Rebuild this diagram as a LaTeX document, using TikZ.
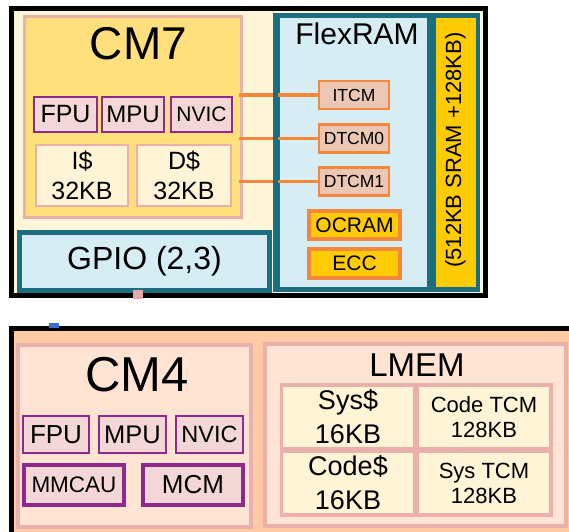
\documentclass[tikz,border=0pt]{standalone}
\usepackage{fontspec}
\setmainfont{Liberation Sans}
\definecolor{framecream}{HTML}{FFF5D8}
\definecolor{cmyellow}{HTML}{FFE07C}
\definecolor{pinkline}{HTML}{EBB0AC}
\definecolor{cellcream}{HTML}{FFF4D6}
\definecolor{unitpink}{HTML}{F3D6D6}
\definecolor{unitline}{HTML}{8E2A8C}
\definecolor{tealline}{HTML}{1B6D80}
\definecolor{lightblue}{HTML}{D6EDF4}
\definecolor{orangeline}{HTML}{F5873A}
\definecolor{tcmfill}{HTML}{ECC7B3}
\definecolor{gold}{HTML}{FFCB05}
\definecolor{peach}{HTML}{FFCBA5}
\definecolor{lightpeach}{HTML}{FFE4D4}
\definecolor{pinsq}{HTML}{E4A8A8}
\definecolor{bluemark}{HTML}{3A6FD0}
\newcommand\fs[2]{\fontsize{#1}{#2}\selectfont}

\begin{document}
\begin{tikzpicture}[x=1pt,y=-1pt,line join=miter,
  every node/.style={inner sep=0pt,align=center},
  sz/.style n args={2}{minimum width=#1,minimum height=#2},
  cell/.style={draw=pinkline,line width=2.5pt,fill=cellcream},
  unit/.style={draw=unitline,line width=1.6pt,fill=unitpink},
  bigunit/.style={draw=unitline,line width=4pt,fill=unitpink},
  tcm/.style={draw=orangeline,line width=2.5pt,fill=tcmfill},
  ocr/.style={draw=orangeline,line width=4pt,fill=gold},
  tealbox/.style={draw=tealline,line width=5pt,fill=lightblue},
  link/.style={draw=orangeline,line width=3.2pt}]
  \useasboundingbox (0,0) rectangle (569,531);
  \clip (0,0) rectangle (569,531);

  \draw[line width=5.5pt,fill=framecream] (11.5,8.5) rectangle (485.5,295.5);
  \node[draw=pinkline,line width=3pt,fill=cmyellow,sz={217}{201}] (cm7) at (132.5,116.5) {};
  \node[font=\fs{46}{50}] (cm7t) at (138.5,44) {CM7};
  \node[unit,sz={63}{35},font=\fs{25}{30}] (fpu7) at (65.5,114.5) {FPU};
  \node[unit,sz={62}{35},font=\fs{24}{30}] (mpu7) at (133,114.5) {MPU};
  \node[unit,sz={61}{35},font=\fs{21}{30}] (nvic7) at (201.5,114.5) {NVIC};
  \node[cell,sz={92}{61},font=\fs{25}{30}] (icache) at (82,175.5) {I\$\\32KB};
  \node[cell,sz={94}{61},font=\fs{25}{30}] (dcache) at (184,175.5) {D\$\\32KB};
  \node[tealbox,sz={250}{58},font=\fs{32}{36}] (gpio) at (144.5,261.5) {GPIO (2,3)};

  \node[tealbox,sz={152}{274}] (flexram) at (353.5,152.5) {};
  \node[font=\fs{30}{34}] (flexramt) at (357,34) {FlexRAM};
  \node[draw=tealline,line width=4.5pt,fill=gold,sz={44.5}{274}] (sram) at (455.5,152.5) {};
  \node[rotate=90,font=\fs{22}{26}] (sramt) at (455.5,150) {(512KB SRAM +128KB)};
  \node[tcm,sz={70}{28},font=\fs{17.5}{20}] (itcm) at (354,95) {ITCM};
  \node[tcm,sz={70}{28},font=\fs{17.5}{20}] (dtcm0) at (354,138.5) {DTCM0};
  \node[tcm,sz={70}{28},font=\fs{17.5}{20}] (dtcm1) at (354,181.5) {DTCM1};
  \node[ocr,sz={91}{28},font=\fs{21}{24}] (ocram) at (354.5,225) {OCRAM};
  \node[ocr,sz={91}{29},font=\fs{21}{24}] (ecc) at (354.5,263.5) {ECC};

  \draw[link] ([xshift=-4pt]cm7.east |- itcm) -- (itcm.west);
  \draw[link] ([xshift=-4pt]cm7.east |- dtcm0) -- (dtcm0.west);
  \draw[link] ([xshift=-4pt]cm7.east |- dtcm1) -- (dtcm1.west);
  \draw[tealline,line width=5pt] (flexram.north west) -- (flexram.south west);
  \node[fill=pinsq,sz={10}{9}] (gpiopin) at (138,294) {};

  \draw[line width=5.5pt,fill=peach] (11.5,328.5) rectangle (600,560);
  \node[fill=bluemark,sz={10}{5}] (mark) at (54,325.5) {};
  \node[draw=pinkline,line width=4pt,fill=lightpeach,sz={233}{182}] (cm4) at (134.5,436) {};
  \node[font=\fs{49}{52}] (cm4t) at (137,375) {CM4};
  \node[unit,sz={66}{37},font=\fs{26}{30}] (fpu4) at (56,434.5) {FPU};
  \node[unit,sz={67}{37},font=\fs{25.5}{30}] (mpu4) at (132.5,434.5) {MPU};
  \node[unit,sz={67}{37},font=\fs{23.5}{30}] (nvic4) at (209.5,434.5) {NVIC};
  \node[bigunit,sz={100}{40},font=\fs{22.5}{26}] (mmcau) at (74,485) {MMCAU};
  \node[bigunit,sz={100}{40},font=\fs{26}{30}] (mcm) at (193,485) {MCM};

  \node[draw=pinkline,line width=4pt,fill=lightpeach,sz={301}{182}] (lmem) at (415.5,435) {};
  \node[font=\fs{33}{36}] (lmemt) at (417,365) {LMEM};
  \node[fill=pinkline,sz={273}{134}] (lmemgrid) at (416.5,450) {};
  \node[fill=cellcream,sz={130}{60},font=\fs{27}{34}] (syscache) at (348,417) {Sys\$\\16KB};
  \node[fill=cellcream,sz={130}{60},font=\fs{22}{25}] (codetcm) at (484,417) {Code TCM\\128KB};
  \node[fill=cellcream,sz={130}{60},font=\fs{27}{34}] (codecache) at (348,483) {Code\$\\16KB};
  \node[fill=cellcream,sz={130}{60},font=\fs{22}{25}] (systcm) at (484,483) {Sys TCM\\128KB};
\end{tikzpicture}
\end{document}
